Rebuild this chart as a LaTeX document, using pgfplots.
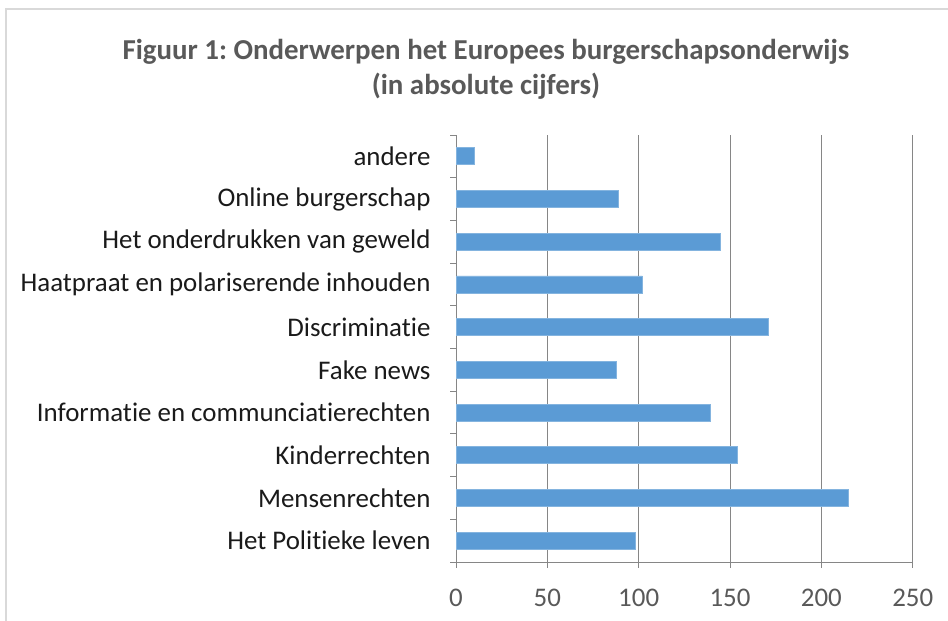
\documentclass[border=0pt]{standalone}
\usepackage{pgfplots}
\pgfplotsset{compat=1.18}
\usepackage{fontspec}
\setmainfont[Ligatures=NoCommon]{Carlito}
\definecolor{barblue}{HTML}{5B9BD5}
\definecolor{txtgray}{HTML}{595959}
\definecolor{lblgray}{HTML}{1A1A1A}
\definecolor{gridgray}{HTML}{868686}
\frenchspacing
\begin{document}
\begin{tikzpicture}[x=1bp,y=1bp]
\useasboundingbox (0,0) rectangle (948,621);
\draw[black!15, line width=1.5bp] (6,0) -- (6,612) -- (948,612);
\node[font=\fontsize{29}{35}\selectfont\bfseries, text=txtgray, align=center] at (486,552) {Figuur 1: Onderwerpen het Europees burgerschapsonderwijs\\(in absolute cijfers)};
\begin{axis}[
  at={(456bp,59bp)}, anchor=south west,
  scale only axis, width=456.7bp, height=427bp,
  xbar, bar width=17bp,
  xmin=0, xmax=250, ymin=-0.5, ymax=9.5,
  xtick={0,50,...,250},
  xmajorgrids, grid style={gridgray, line width=0.8bp},
  axis x line*=bottom, axis y line*=left,
  axis line style={gridgray, line width=0.8bp},
  tick style={gridgray, line width=0.8bp},
  tick align=outside,
  major tick length=6bp,
  ytick={-0.5,0.5,...,9.5},
  yticklabels={},
  extra y ticks={0,1,2,3,4,5,6,7,8,9},
  extra y tick labels={Het Politieke leven, Mensenrechten, Kinderrechten, Informatie en communciatierechten, Fake news, Discriminatie, Haatpraat en polariserende inhouden, Het onderdrukken van geweld, Online burgerschap, andere},
  extra y tick style={major tick length=0pt, tick style={draw=none}, yticklabel style={text=lblgray, xshift=-22bp}},
  /pgf/number format/assume math mode=true,
  ticklabel style={font=\fontsize{27}{32}\selectfont},
  xticklabel style={text=txtgray, yshift=-18bp},
]
\addplot[fill=barblue, draw=barblue!75!white, line width=0.8bp] coordinates {(98,0) (215,1) (154,2) (139,3) (88,4) (171,5) (102,6) (145,7) (89,8) (10,9)};
\end{axis}
\end{tikzpicture}
\end{document}
